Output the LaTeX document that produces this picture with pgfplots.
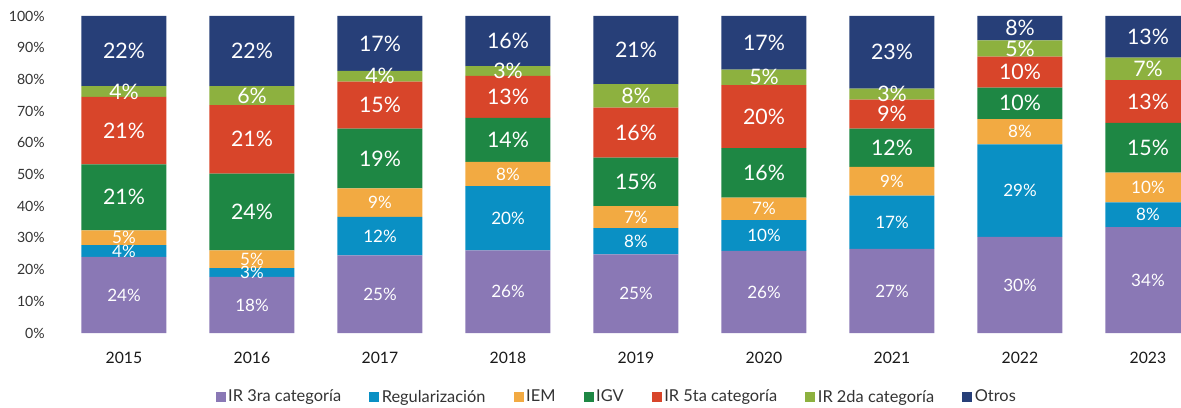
\documentclass[border=0pt]{standalone}
\usepackage{pgfplots}
\pgfplotsset{compat=1.18}
\usepackage{pgfplotstable}
\usepackage{fontspec}
\setmainfont{Lato}

\definecolor{cP}{HTML}{8A78B5}
\definecolor{cB}{HTML}{0A90C4}
\definecolor{cE}{HTML}{F2AA42}
\definecolor{cG}{HTML}{1E8744}
\definecolor{cR}{HTML}{D8452A}
\definecolor{cS}{HTML}{8DB13F}
\definecolor{cO}{HTML}{273F78}

\pgfplotstableread{
x p pl b bl e el g gl r rl s sl o ol
0 24.0 24 3.7 4 4.7 5 20.8 21 21.3 21 3.4 4 22.1 22
1 17.7 18 2.8 3 5.6 5 24.2 24 21.6 21 6.0 6 22.1 22
2 24.5 25 12.1 12 9.0 9 18.9 19 14.8 15 3.4 4 17.3 17
3 26.1 26 20.2 20 7.7 8 13.9 14 13.2 13 3.1 3 15.8 16
4 24.8 25 8.3 8 6.9 7 15.3 15 15.8 16 7.4 8 21.5 21
5 25.9 26 9.7 10 7.1 7 15.6 16 19.9 20 4.9 5 16.9 17
6 26.5 27 16.8 17 9.1 9 12.1 12 9.1 9 3.5 3 22.9 23
7 30.3 30 29.2 29 8.0 8 9.9 10 9.8 10 5.1 5 7.7 8
8 33.4 34 7.8 8 9.4 10 15.7 15 13.5 13 7.1 7 13.1 13
}\data

\pgfplotsset{
 seg/.style n args={2}{fill=#1, draw=none,
   nodes near coords={#2\pgfmathprintnumber{\pgfplotspointmeta}\%},
   legend image code/.code={\fill[#1] (0pt,-3.75pt) rectangle (7.5pt,3.75pt);}},
}

\begin{document}
\begin{tikzpicture}
\path[use as bounding box] (0,0) rectangle (885.75pt,305.25pt);
\begin{axis}[
  at={(45pt,55.5pt)}, anchor=south west,
  width=840.75pt, height=237.75pt, scale only axis,
  ybar stacked, bar width=63.75pt,
  xmin=-0.5, xmax=8.258, ymin=0, ymax=100,
  axis line style={draw=none}, major tick length=0pt,
  xtick={0,...,8}, xticklabels={2015,2016,2017,2018,2019,2020,2021,2022,2023},
  ytick={0,10,...,100},
  yticklabel={\pgfmathprintnumber{\tick}\%},
  /pgf/number format/assume math mode=true,
  yticklabel style={anchor=east, inner sep=0pt, xshift=-11.25pt, font=\fontsize{10.6}{11}\selectfont, text=black!80},
  xticklabel style={anchor=base, inner sep=0pt, yshift=-22.5pt, font=\fontsize{11.8}{12}\selectfont, text=black!90},
  point meta=explicit,
  every node near coord/.append style={anchor=center, text=white, inner sep=0pt},
  legend columns=-1,
  legend style={at={(0.4969,-0.2019)}, anchor=center, draw=none, fill=none,
    font=\fontsize{12.3}{13}\selectfont, text=black!80,
    /tikz/every even column/.append style={column sep=19pt}},
]
\addplot[seg={cP}{\fontsize{12.8}{13}\selectfont}] table[x=x,y=p,meta=pl]{\data};
\addplot[seg={cB}{\fontsize{12.8}{13}\selectfont}] table[x=x,y=b,meta=bl]{\data};
\addplot[seg={cE}{\fontsize{12.8}{13}\selectfont}] table[x=x,y=e,meta=el]{\data};
\addplot[seg={cG}{\fontsize{16}{16}\selectfont}] table[x=x,y=g,meta=gl]{\data};
\addplot[seg={cR}{\fontsize{16}{16}\selectfont}] table[x=x,y=r,meta=rl]{\data};
\addplot[seg={cS}{\fontsize{16}{16}\selectfont}] table[x=x,y=s,meta=sl]{\data};
\addplot[seg={cO}{\fontsize{16}{16}\selectfont}] table[x=x,y=o,meta=ol]{\data};
\legend{IR 3ra categoría, Regularización, IEM, IGV, IR 5ta categoría, IR 2da categoría, Otros}
\end{axis}
\end{tikzpicture}
\end{document}
